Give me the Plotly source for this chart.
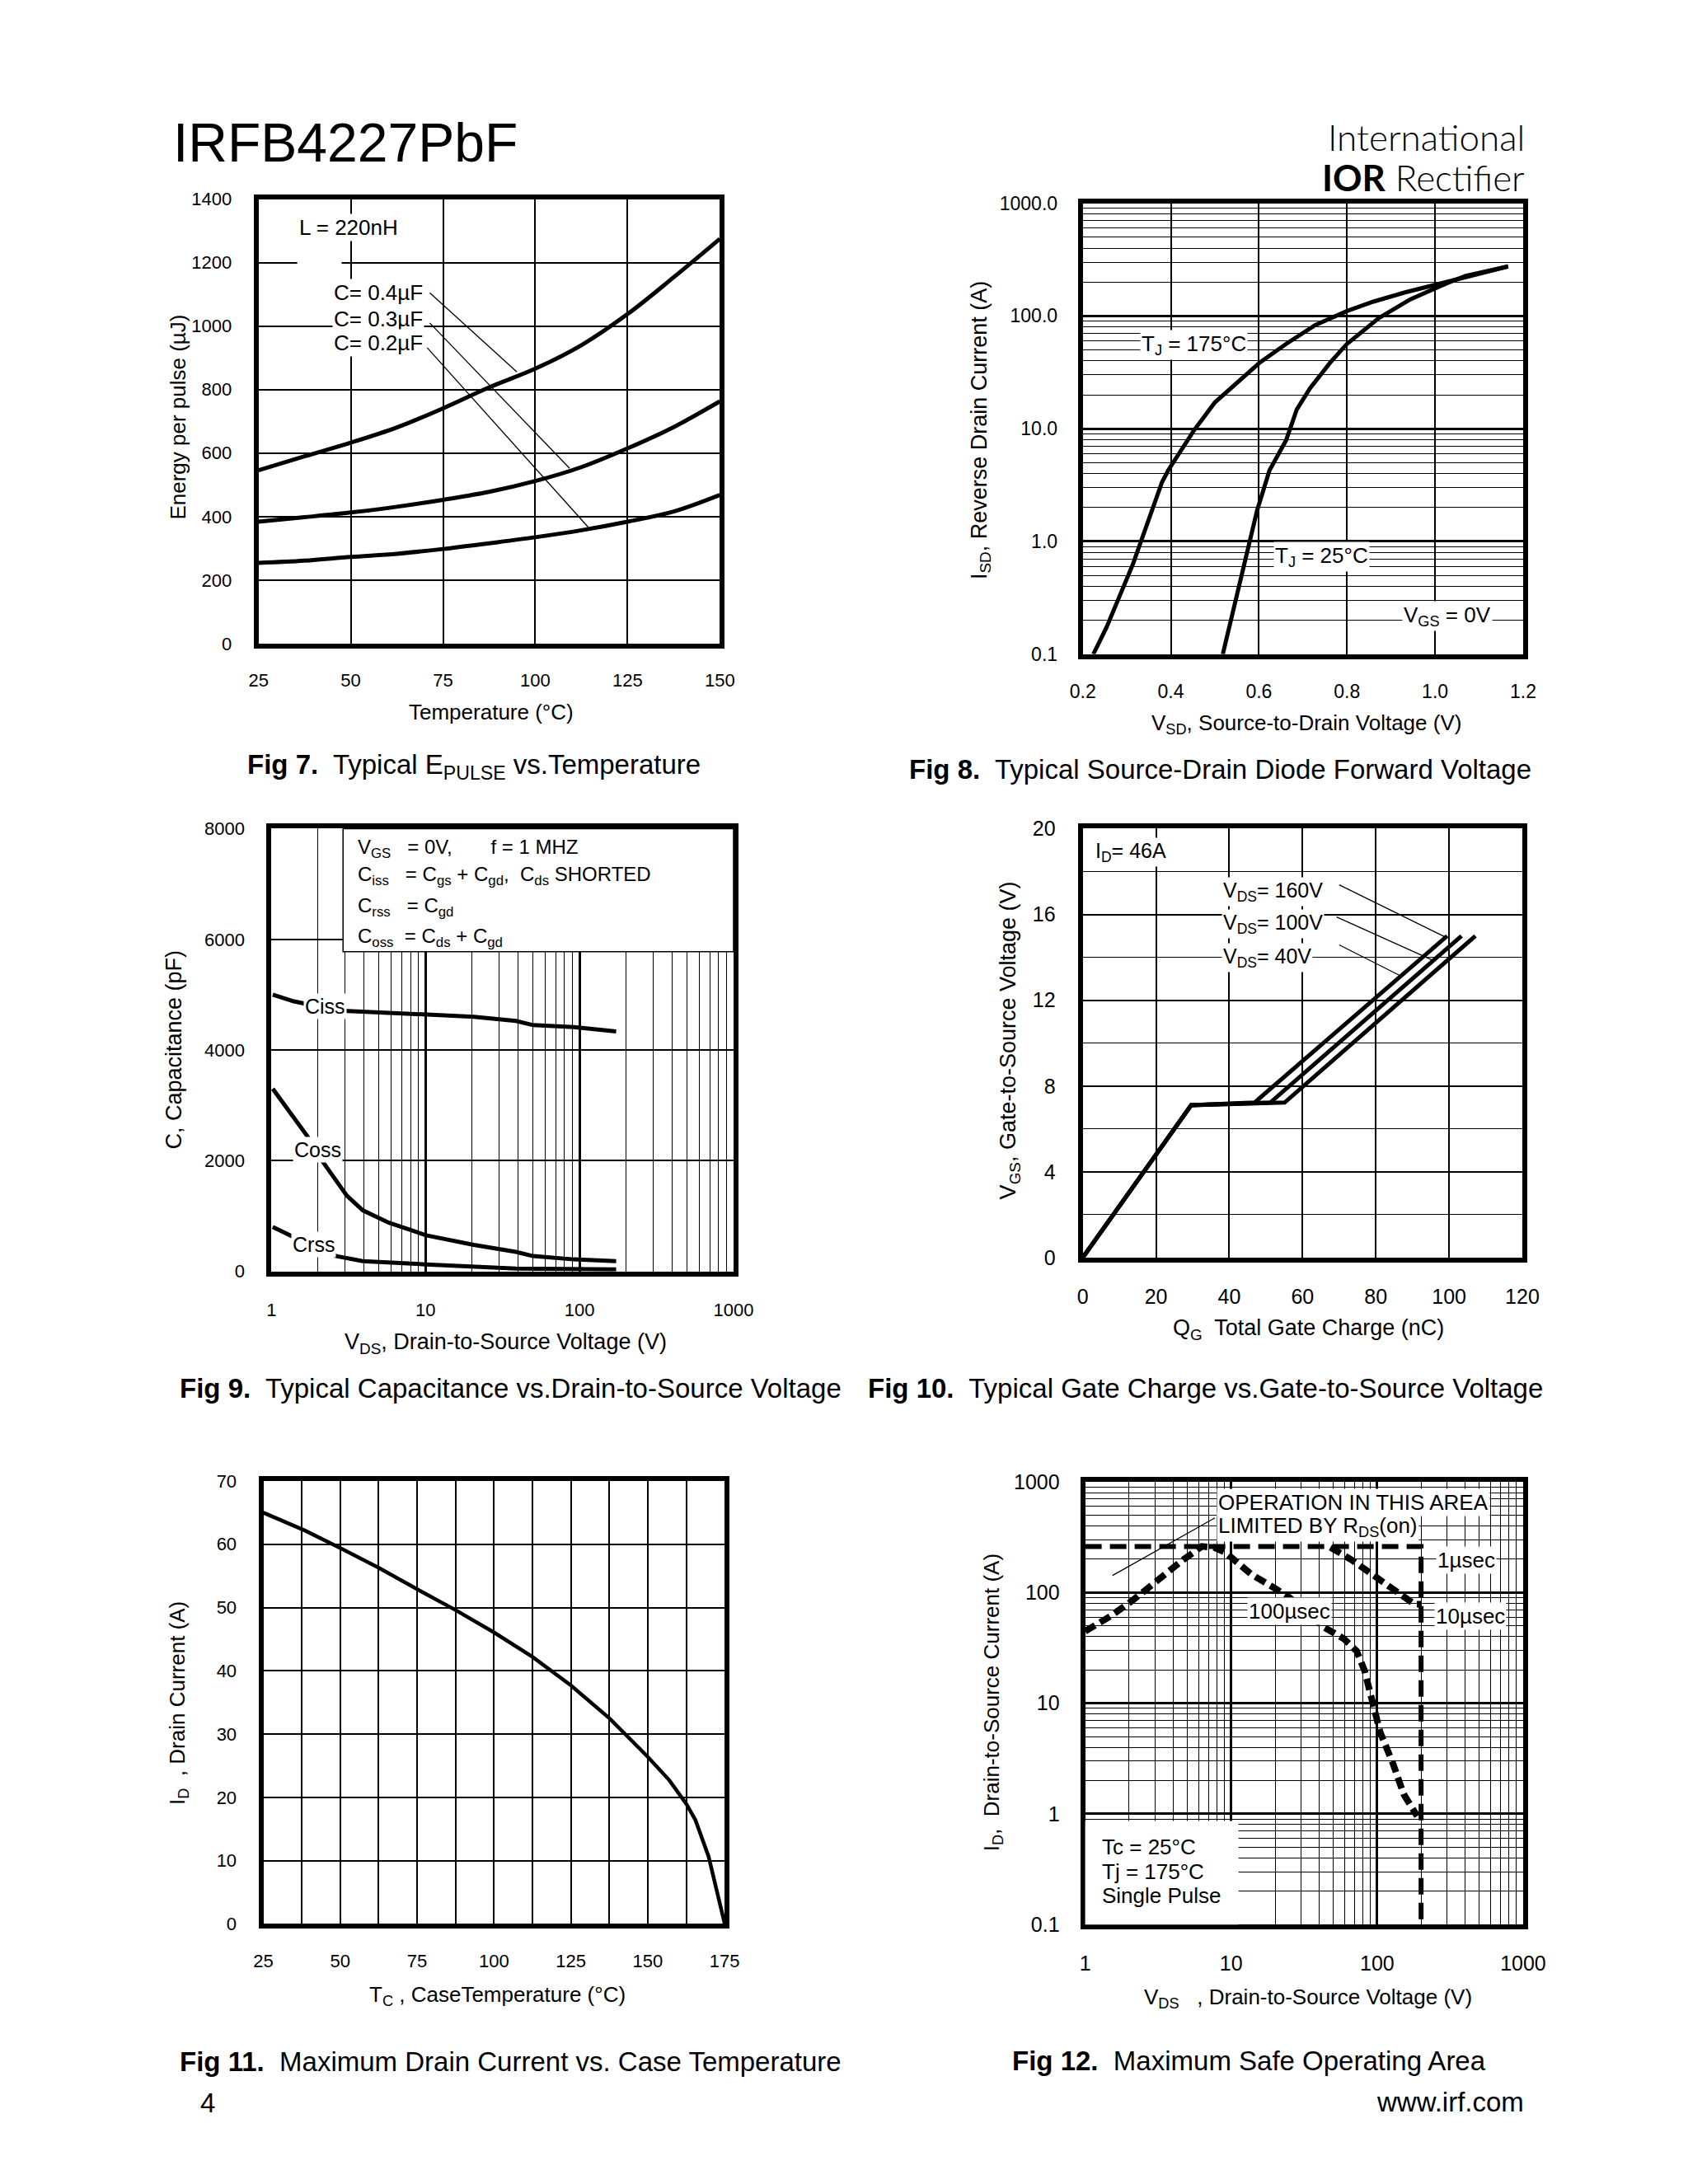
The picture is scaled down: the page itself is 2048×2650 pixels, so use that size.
import plotly.graph_objects as go

W, H = 2048, 2650
FONT = "Liberation Sans, Arial, Helvetica, sans-serif"
LOGO_FONT = "Lato, Liberation Sans, sans-serif"

# ---------------- Fig 7 data ----------------
f7_temp = [25, 37.5, 50, 62.5, 75, 87.5, 100, 112.5, 125, 137.5, 150]
f7_c04 = [546, 590, 633, 681, 741, 807, 866, 940, 1038, 1154, 1275]
f7_c03 = [384, 398, 413, 431, 453, 478, 512, 556, 615, 682, 763]
f7_c02 = [254, 261, 273, 283, 298, 316, 335, 357, 384, 416, 468]
f7_labels = ["C= 0.4µF", "C= 0.3µF", "C= 0.2µF"]
f7_label_y = [1105, 1022, 947]
f7_lead_x = [[71.4, 95], [71.4, 109.3], [70.7, 114.3]]
f7_lead_y = [[1105, 856], [1010, 552], [932, 367]]

# ---------------- Fig 8 data ----------------
f8_v175 = [0.224, 0.254, 0.314, 0.362, 0.380, 0.394, 0.452, 0.500, 0.548, 0.602,
           0.662, 0.728, 0.800, 0.860, 0.932, 1.016, 1.100, 1.166]
f8_i175 = [0.1, 0.173, 0.63, 2.18, 3.36, 4.27, 9.6, 17.1, 25, 38.6,
           56.6, 83, 110.6, 134, 162, 196, 238, 275]
f8_v25 = [0.518, 0.560, 0.596, 0.624, 0.662, 0.686, 0.716, 0.762, 0.800, 0.872,
          0.944, 1.028, 1.070, 1.166]
f8_i25 = [0.1, 0.47, 1.89, 4.27, 7.94, 14.8, 22.8, 38.6, 56.6, 95.7,
          140.6, 196, 227, 275]
f8_yticks = [0.1, 1, 10, 100, 1000]
f8_yticktext = ["0.1", "1.0", "10.0", "100.0", "1000.0"]

# ---------------- Fig 9 data ----------------
f9_v_ciss = [1.02, 1.40, 2.75, 5.8, 10.1, 20.6, 38.7, 49.9, 92, 173]
f9_ciss = [5000, 4880, 4714, 4677, 4654, 4602, 4526, 4451, 4414, 4338]
f9_v_coss = [1.02, 1.71, 2.17, 3.09, 3.92, 5.8, 10.1, 20.6, 38.7, 49.9, 92, 173]
f9_coss = [3301, 2444, 1970, 1368, 1105, 880, 654, 481, 353, 278, 218, 188]
f9_v_crss = [1.02, 1.35, 2.64, 3.92, 10.1, 20.6, 38.7, 173]
f9_crss = [805, 639, 278, 188, 128, 83, 53, 38]

# ---------------- Fig 10 data ----------------
f10_qg_160 = [0, 29.6, 46.9, 99.5]
f10_qg_100 = [0, 29.6, 51.2, 103.4]
f10_qg_40 = [0, 29.6, 55.1, 107.2]
f10_vgs = [0, 7.11, 7.23, 15.0]
f10_lead_x = [[70, 99.5], [69.3, 95.9], [70, 86.5]]
f10_lead_y = [[17.38, 14.9], [15.88, 13.84], [14.58, 13.16]]

# ---------------- Fig 11 data ----------------
f11_tc = [25, 38.4, 50.1, 62.5, 75, 87.5, 99.9, 112.5, 125, 137.5, 150,
          157, 162.6, 165.5, 169.8, 172.4, 175]
f11_id = [65, 62.2, 59.4, 56.3, 52.9, 49.6, 46.1, 42.2, 37.7, 32.5, 26.4,
          22.7, 18.9, 16.4, 10.6, 5.5, 0]

# ---------------- Fig 12 data ----------------
f12_lim_v = [1, 200, 200]
f12_lim_i = [261, 261, 0.1]
f12_100us_v = [1.0, 1.48, 2.06, 2.86, 4.7, 6.3, 7.7, 9.1, 13.8, 19.2, 24.7, 32,
               42.3, 58.9, 72.4, 82, 92.8, 105, 129, 152, 188]
f12_100us_i = [44.7, 60.8, 82.8, 118, 198, 261, 255, 231, 145.5, 112.5, 91.6, 70,
               49.5, 38.4, 29.6, 19.7, 9.6, 5.46, 2.8, 1.51, 0.955]
f12_10us_v = [47.9, 66.6, 92.8, 129, 180, 200]
f12_10us_i = [256, 198, 145.5, 107, 78.5, 78.5]
f12_lead_v = [1.54, 7.74]
f12_lead_i = [142.6, 473]
f12_yticks = [0.1, 1, 10, 100, 1000]
f12_yticktext = ["0.1", "1", "10", "100", "1000"]
log_xticks = [1, 10, 100, 1000]

# ---------------- layout geometry (pixels) ----------------
def dx(a, b):
    return [a / W, b / W]

def dy(top, bottom):
    return [1 - bottom / H, 1 - top / H]

fig = go.Figure()

def line(x, y, n, width=5, dash="solid", shape="linear"):
    s = "" if n == 1 else str(n)
    fig.add_trace(go.Scatter(x=x, y=y, xaxis="x" + s, yaxis="y" + s, mode="lines",
                             line=dict(color="black", width=width, dash=dash, shape=shape),
                             showlegend=False, hoverinfo="skip"))

# Fig 7
line(f7_temp, f7_c04, 1, shape="spline")
line(f7_temp, f7_c03, 1, shape="spline")
line(f7_temp, f7_c02, 1, shape="spline")
for lx, ly in zip(f7_lead_x, f7_lead_y):
    line(lx, ly, 1, width=1.3)

# Fig 8
line(f8_v175, f8_i175, 2, width=5)
line(f8_v25, f8_i25, 2, width=5)

# Fig 9
line(f9_v_ciss, f9_ciss, 3, width=5)
line(f9_v_coss, f9_coss, 3, width=5)
line(f9_v_crss, f9_crss, 3, width=5)

# Fig 10
line(f10_qg_160, f10_vgs, 4, width=5)
line(f10_qg_100, f10_vgs, 4, width=5)
line(f10_qg_40, f10_vgs, 4, width=5)
for lx, ly in zip(f10_lead_x, f10_lead_y):
    line(lx, ly, 4, width=1.3)

# Fig 11
line(f11_tc, f11_id, 5, width=4.5)

# Fig 12
line(f12_lim_v, f12_lim_i, 6, width=6, dash="20px,10px")
line(f12_100us_v, f12_100us_i, 6, width=8, dash="14px,7px")
line(f12_10us_v, f12_10us_i, 6, width=8, dash="14px,7px")
line(f12_lead_v, f12_lead_i, 6, width=1.3)

BORDER = dict(showline=True, linewidth=6, linecolor="black", mirror=True,
              zeroline=False, ticks="", gridcolor="black", gridwidth=2,
              showgrid=True)

def axis(domain, anchor, size, **kw):
    d = dict(BORDER)
    d.update(domain=domain, anchor=anchor,
             tickfont=dict(family=FONT, size=size, color="black"))
    d.update(kw)
    return d

lay = dict(
    width=W, height=H, margin=dict(l=0, r=0, t=0, b=0),
    paper_bgcolor="white", plot_bgcolor="white", showlegend=False,
    font=dict(family=FONT, color="black"),
)

# Fig 7 axes
lay["xaxis"] = axis(dx(296, 868), "y", 22, range=[25, 150], dtick=25, tick0=25,
                    ticklabelstandoff=20)
lay["yaxis"] = axis(dy(222, 767), "x", 22, range=[0, 1400], dtick=200,
                    ticklabelstandoff=22)
# Fig 8 axes
lay["xaxis2"] = axis(dx(1318, 1864), "y2", 23, range=[0.2, 1.2], dtick=0.2, tick0=0.2,
                     tickformat=".1f", ticklabelstandoff=20)
lay["yaxis2"] = axis(dy(227, 780), "x2", 23, type="log", range=[-1, 3],
                     tickvals=f8_yticks, ticktext=f8_yticktext, gridwidth=2.5,
                     ticklabelstandoff=20,
                     minor=dict(dtick="D1", showgrid=True, gridcolor="black",
                                gridwidth=1, ticks=""))
# Fig 9 axes
lay["xaxis3"] = axis(dx(312, 885), "y3", 22, type="log", range=[0, 3],
                     tickvals=log_xticks, ticktext=[str(v) for v in log_xticks],
                     ticklabelstandoff=22, gridwidth=2.5,
                     minor=dict(dtick="D1", showgrid=True, gridcolor="black",
                                gridwidth=1.2, ticks=""))
lay["yaxis3"] = axis(dy(994, 1537), "x3", 22, range=[0, 8000], dtick=2000,
                     ticklabelstandoff=22)
# Fig 10 axes
lay["xaxis4"] = axis(dx(1318, 1863), "y4", 25, range=[0, 120], dtick=20,
                     ticklabelstandoff=20)
lay["yaxis4"] = axis(dy(994, 1520), "x4", 25, range=[0, 20], dtick=4,
                     ticklabelstandoff=22,
                     minor=dict(dtick=2, showgrid=True, gridcolor="black",
                                gridwidth=1, ticks=""))
# Fig 11 axes
lay["xaxis5"] = axis(dx(302, 874), "y5", 22, range=[25, 175], dtick=25, tick0=25,
                     ticklabelstandoff=20,
                     minor=dict(dtick=12.5, tick0=25, showgrid=True,
                                gridcolor="black", gridwidth=2, ticks=""))
lay["yaxis5"] = axis(dy(1794, 2337), "x5", 22, range=[0, 70], dtick=10,
                     ticklabelstandoff=22)
# Fig 12 axes
lay["xaxis6"] = axis(dx(1321, 1864), "y6", 25, type="log", range=[0, 3],
                     tickvals=log_xticks, ticktext=[str(v) for v in log_xticks],
                     ticklabelstandoff=20, gridwidth=2.5,
                     minor=dict(dtick="D1", showgrid=True, gridcolor="black",
                                gridwidth=1, ticks=""))
lay["yaxis6"] = axis(dy(1795, 2338), "x6", 25, type="log", range=[-1, 3],
                     tickvals=f12_yticks, ticktext=f12_yticktext,
                     ticklabelstandoff=20, gridwidth=2.5,
                     minor=dict(dtick="D1", showgrid=True, gridcolor="black",
                                gridwidth=1, ticks=""))
fig.update_layout(**lay)

ann = []

def ptext(text, px, py, size, xanchor="center", angle=0, font=FONT, weight=None):
    f = dict(family=font, size=size, color="black")
    if weight:
        f["weight"] = weight
    ann.append(dict(text=text, x=px / W, y=1 - py / H, xref="paper", yref="paper",
                    xanchor=xanchor, yanchor="middle", showarrow=False,
                    textangle=angle, font=f))

def dtext(text, x, y, n, size, xanchor="center", bg="white", xref=None, yref=None):
    s = "" if n == 1 else str(n)
    ann.append(dict(text=text, x=x, y=y, xref=xref or ("x" + s), yref=yref or ("y" + s),
                    xanchor=xanchor, yanchor="middle", showarrow=False,
                    bgcolor=bg, borderpad=1,
                    font=dict(family=FONT, size=size, color="black")))

# Header
ptext("IRFB4227PbF", 188, 153, 66, xanchor="left")
ptext("International", 1868, 146, 44, xanchor="right", font=LOGO_FONT, weight=300)
ptext("<b>IOR</b> Rectifier", 1868, 195, 44, xanchor="right", font=LOGO_FONT, weight=300)

# Captions
ptext("<b>Fig 7.</b>&nbsp; Typical E<sub>PULSE</sub> vs.Temperature", 280, 918, 33, xanchor="left")
ptext("<b>Fig 8.</b>&nbsp; Typical Source-Drain Diode Forward Voltage", 1101, 921, 33, xanchor="left")
ptext("<b>Fig 9.</b>&nbsp; Typical Capacitance vs.Drain-to-Source Voltage", 196, 1680, 33, xanchor="left")
ptext("<b>Fig 10.</b>&nbsp; Typical Gate Charge vs.Gate-to-Source Voltage", 1050, 1680, 33, xanchor="left")
ptext("<b>Fig 11.</b>&nbsp; Maximum Drain Current vs. Case Temperature", 196, 2506, 33, xanchor="left")
ptext("<b>Fig 12.</b>&nbsp; Maximum Safe Operating Area", 1228, 2505, 33, xanchor="left")
ptext("4", 222, 2557, 33, xanchor="left")
ptext("www.irf.com", 1867, 2556, 33, xanchor="right")

# Axis titles
ptext("Temperature (°C)", 585, 851, 26)
ptext("Energy per pulse (µJ)", 196, 489, 26, angle=-90)
ptext("V<sub>SD</sub>, Source-to-Drain Voltage (V)", 1595, 866, 26)
ptext("I<sub>SD</sub>, Reverse Drain Current (A)", 1191, 505, 27, angle=-90)
ptext("V<sub>DS</sub>, Drain-to-Source Voltage (V)", 602, 1625, 27)
ptext("C, Capacitance (pF)", 191, 1265, 27, angle=-90)
ptext("Q<sub>G</sub>&nbsp; Total Gate Charge (nC)", 1598, 1608, 27)
ptext("V<sub>GS</sub>, Gate-to-Source Voltage (V)", 1227, 1254, 27, angle=-90)
ptext("T<sub>C</sub> , CaseTemperature (°C)", 592, 2425, 26)
ptext("I<sub>D</sub>&nbsp; , Drain Current (A)", 196, 2066, 26, angle=-90)
ptext("V<sub>DS</sub>&nbsp;&nbsp; , Drain-to-Source Voltage (V)", 1597, 2428, 26)
ptext("I<sub>D</sub>,&nbsp; Drain-to-Source Current (A)", 1206, 2066, 26, angle=-90)

shapes = []
# white patch under the "L = 220nH" note, as in the original artwork
shapes.append(dict(type="rect", xref="x", yref="y", x0=35.5, x1=47.5, y0=1185, y1=1225,
                   fillcolor="white", line=dict(width=0), layer="above"))

# Fig 7 labels
dtext("L = 220nH", 35.5, 1310, 1, 26, xanchor="left")
for t, yv in zip(f7_labels, f7_label_y):
    dtext(t, 70.0, yv, 1, 26, xanchor="right")

# Fig 8 labels
dtext("T<sub>J</sub> = 175°C", 0.452, 1.744, 2, 26)
dtext("T<sub>J</sub> = 25°C", 0.743, -0.139, 2, 26)
dtext("V<sub>GS</sub> = 0V", 1.027, -0.659, 2, 26)

# Fig 9 legend box & labels
shapes.append(dict(type="rect", xref="x3 domain", yref="y3 domain", x0=0.155, x1=1.0,
                   y0=0.722, y1=1.0, fillcolor="white", line=dict(color="black", width=1.5),
                   layer="above"))
f9_box_lines = [
    "V<sub>GS</sub>&nbsp;&nbsp; = 0V,&nbsp;&nbsp;&nbsp;&nbsp;&nbsp;&nbsp; f = 1 MHZ",
    "C<sub>iss</sub>&nbsp;&nbsp; = C<sub>gs</sub> + C<sub>gd</sub>,&nbsp; C<sub>ds</sub> SHORTED",
    "C<sub>rss</sub>&nbsp;&nbsp; = C<sub>gd</sub>",
    "C<sub>oss</sub>&nbsp; = C<sub>ds</sub> + C<sub>gd</sub>",
]
f9_box_y = [0.955, 0.894, 0.824, 0.754]
for t, yv in zip(f9_box_lines, f9_box_y):
    dtext(t, 0.183, yv, 3, 24, xanchor="left", bg="rgba(0,0,0,0)",
          xref="x3 domain", yref="y3 domain")
dtext("Ciss", 0.35, 4789, 3, 25)
dtext("Coss", 0.30, 2195, 3, 25)
dtext("Crss", 0.276, 481, 3, 25)

# Fig 10 labels
dtext("I<sub>D</sub>= 46A", 3.0, 18.9, 4, 25, xanchor="left")
dtext("V<sub>DS</sub>= 160V", 37.8, 17.05, 4, 25, xanchor="left")
dtext("V<sub>DS</sub>= 100V", 37.8, 15.55, 4, 25, xanchor="left")
dtext("V<sub>DS</sub>= 40V", 37.8, 14.0, 4, 25, xanchor="left")

# Fig 12 labels & box
shapes.append(dict(type="rect", xref="x6 domain", yref="y6 domain", x0=0.0, x1=0.35,
                   y0=0.0, y1=0.234, fillcolor="white", line=dict(width=0),
                   layer="above"))
dtext("OPERATION IN THIS AREA", 0.899, 2.817, 6, 26, xanchor="left")
dtext("LIMITED BY R<sub>DS</sub>(on)", 0.899, 2.595, 6, 26, xanchor="left")
dtext("1µsec", 2.399, 2.296, 6, 26, xanchor="left")
dtext("10µsec", 2.392, 1.784, 6, 26, xanchor="left")
dtext("100µsec", 1.399, 1.8285, 6, 26)
f12_box_lines = ["Tc = 25°C", "Tj = 175°C", "Single Pulse"]
f12_box_y = [0.176, 0.120, 0.065]
for t, yv in zip(f12_box_lines, f12_box_y):
    dtext(t, 0.035, yv, 6, 26, xanchor="left", bg="rgba(0,0,0,0)",
          xref="x6 domain", yref="y6 domain")

fig.update_layout(annotations=ann, shapes=shapes)
fig.write_html("out.html")
